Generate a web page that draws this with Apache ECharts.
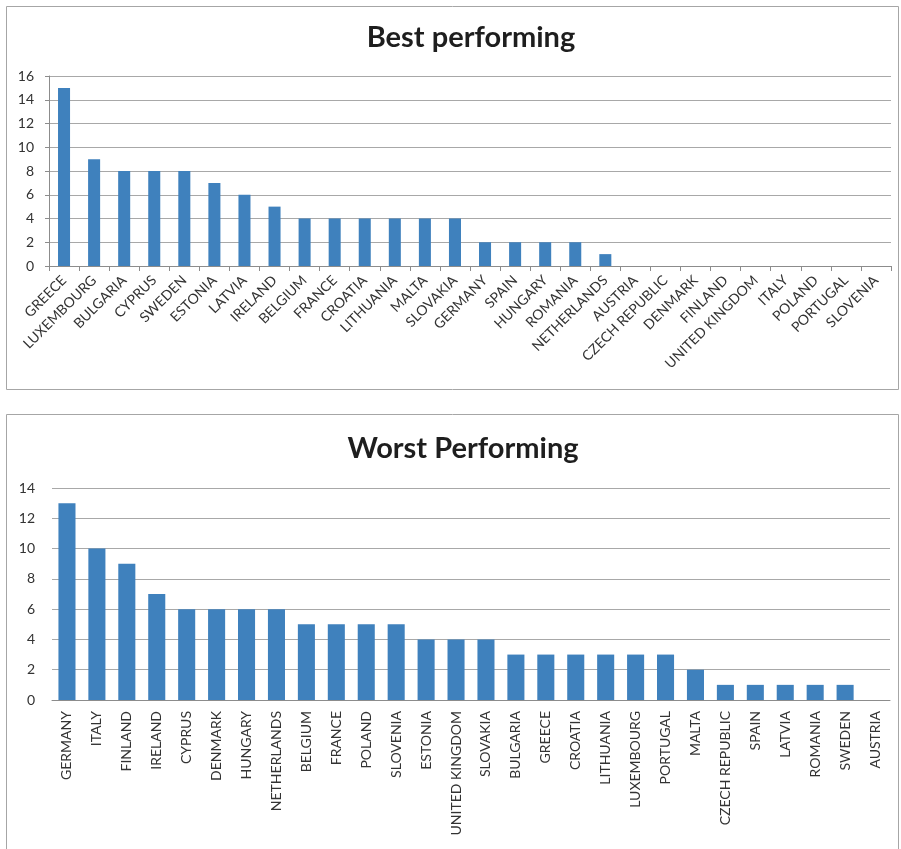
<!DOCTYPE html>
<html>
<head>
<meta charset="utf-8">
<script src="https://cdn.jsdelivr.net/npm/echarts@6/dist/echarts.min.js"></script>
<style>
  html, body { margin: 0; padding: 0; background: #fff; }
  #chart { width: 901px; height: 849px; }
</style>
</head>
<body>
<div id="chart"></div>
<script>
// best performing countries
var bestNames = ["GREECE", "LUXEMBOURG", "BULGARIA", "CYPRUS", "SWEDEN", "ESTONIA", "LATVIA", "IRELAND",
    "BELGIUM", "FRANCE", "CROATIA", "LITHUANIA", "MALTA", "SLOVAKIA", "GERMANY", "SPAIN", "HUNGARY",
    "ROMANIA", "NETHERLANDS", "AUSTRIA", "CZECH REPUBLIC", "DENMARK", "FINLAND", "UNITED KINGDOM",
    "ITALY", "POLAND", "PORTUGAL", "SLOVENIA"];
var bestValues = [15, 9, 8, 8, 8, 7, 6, 5, 4, 4, 4, 4, 4, 4, 2, 2, 2, 2, 1, 0, 0, 0, 0, 0, 0, 0, 0, 0];
var bestTicks = [0, 16, 2]; // min, max, step

// worst performing countries
var worstNames = ["GERMANY", "ITALY", "FINLAND", "IRELAND", "CYPRUS", "DENMARK", "HUNGARY", "NETHERLANDS",
    "BELGIUM", "FRANCE", "POLAND", "SLOVENIA", "ESTONIA", "UNITED KINGDOM", "SLOVAKIA", "BULGARIA",
    "GREECE", "CROATIA", "LITHUANIA", "LUXEMBOURG", "PORTUGAL", "MALTA", "CZECH REPUBLIC", "SPAIN",
    "LATVIA", "ROMANIA", "SWEDEN", "AUSTRIA"];
var worstValues = [13, 10, 9, 7, 6, 6, 6, 6, 5, 5, 5, 5, 4, 4, 4, 3, 3, 3, 3, 3, 3, 2, 1, 1, 1, 1, 1, 0];
var worstTicks = [0, 14, 2];

var font = "Lato";
var barColor = "#3f81bd";
var gridColor = "#a8a8a8";
var axisColor = "#8c8c8c";
var labelColor = "#333";

var myChart = echarts.init(document.getElementById("chart"));

var option = {
    animation: false,
    textStyle: { fontFamily: font },
    title: [
        { text: "Best performing", left: 466, top: 18, textAlign: "center",
          textStyle: { fontFamily: font, fontSize: 29, fontWeight: "bold", color: "#1e1e1e" } },
        { text: "Worst Performing", left: 458, top: 429, textAlign: "center",
          textStyle: { fontFamily: font, fontSize: 29, fontWeight: "bold", color: "#1e1e1e" } }
    ],
    graphic: [
        { type: "rect", shape: { x: 6.5, y: 6.5, width: 892, height: 383 },
          style: { fill: "none", stroke: "#a6a6a6", lineWidth: 1 }, z: -1 },
        { type: "rect", shape: { x: 6.5, y: 414.5, width: 892, height: 450 },
          style: { fill: "none", stroke: "#a6a6a6", lineWidth: 1 }, z: -1 }
    ],
    grid: [
        { left: 49, right: 10, top: 76, height: 190 },
        { left: 52, right: 11, top: 488, height: 212 }
    ],
    xAxis: [
        {
            type: "category", gridIndex: 0, data: bestNames,
            axisLine: { lineStyle: { color: axisColor, width: 1 } },
            axisTick: { show: true, length: 5, lineStyle: { color: axisColor } },
            axisLabel: { interval: 0, rotate: 45, margin: 12, fontSize: 14, color: labelColor, fontFamily: font }
        },
        {
            type: "category", gridIndex: 1, data: worstNames,
            axisLine: { lineStyle: { color: axisColor, width: 1 } },
            axisTick: { show: false },
            axisLabel: { interval: 0, rotate: 90, margin: 11, fontSize: 14, color: labelColor, fontFamily: font }
        }
    ],
    yAxis: [
        {
            type: "value", gridIndex: 0, min: bestTicks[0], max: bestTicks[1], interval: bestTicks[2],
            axisLine: { show: true, lineStyle: { color: axisColor } },
            axisTick: { show: true, length: 4, lineStyle: { color: axisColor } },
            axisLabel: { margin: 15, fontSize: 14, color: labelColor, fontFamily: font },
            splitLine: { lineStyle: { color: gridColor } }
        },
        {
            type: "value", gridIndex: 1, min: worstTicks[0], max: worstTicks[1], interval: worstTicks[2],
            axisLine: { show: false },
            axisTick: { show: false },
            axisLabel: { margin: 17, fontSize: 14, color: labelColor, fontFamily: font },
            splitLine: { lineStyle: { color: gridColor } }
        }
    ],
    series: [
        {
            type: "bar", xAxisIndex: 0, yAxisIndex: 0, data: bestValues,
            barCategoryGap: "60%",
            itemStyle: { color: barColor }
        },
        {
            type: "bar", xAxisIndex: 1, yAxisIndex: 1, data: worstValues,
            barCategoryGap: "43%",
            itemStyle: { color: barColor }
        }
    ]
};

myChart.setOption(option);
</script>
</body>
</html>
